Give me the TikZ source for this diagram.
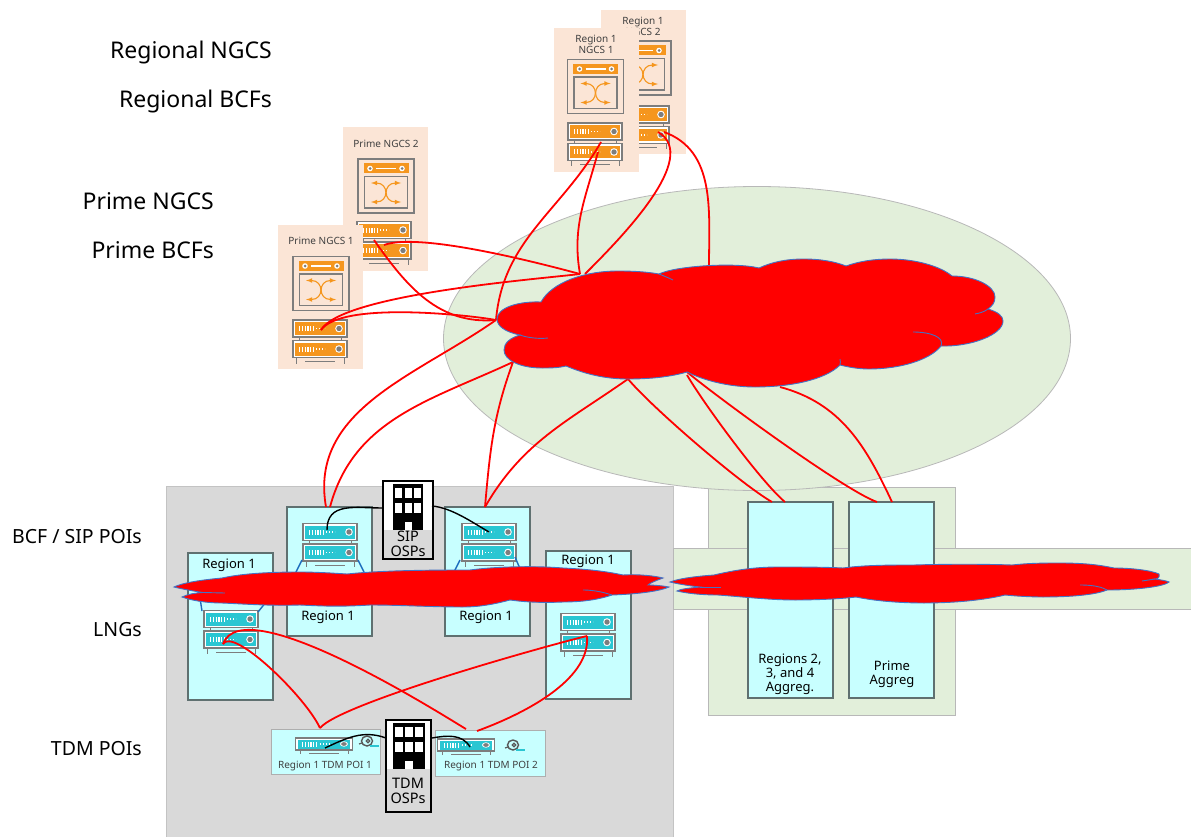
\documentclass[tikz,border=0pt]{standalone}
\usepackage{fontspec}
\usepackage{tikz}
\usetikzlibrary{shapes.geometric}
\setmainfont{Noto Sans}
\definecolor{peach}{RGB}{251, 229, 214}
\definecolor{palegreen}{RGB}{226, 239, 218}
\definecolor{palegray}{RGB}{217, 217, 217}
\definecolor{palecyan}{RGB}{200, 255, 255}
\definecolor{srvorange}{RGB}{245, 150, 30}
\definecolor{srvcyan}{RGB}{42, 198, 210}
\definecolor{iconedge}{RGB}{125, 125, 125}
\definecolor{boxedge}{RGB}{95, 112, 112}
\definecolor{cloudedge}{RGB}{68, 114, 196}
\definecolor{lanblue}{RGB}{30, 110, 190}

\tikzset{
	pics/srvunit/.style={code={
		\draw[iconedge,line width=1.2pt,fill=white] (-27,-8.5) rectangle (27,8.5);
		\fill[#1] (-25,-6.3) rectangle (25,6.5);
		\draw[white,line width=5pt,dash pattern=on 1.2pt off 1.6pt] (-21,0) -- (-6,0);
		\draw[white,line width=1.3pt,dash pattern=on 1.3pt off 1.7pt] (-4,0) -- (5,0);
		\fill[white] (19,0) circle (3.8pt);
		\fill[iconedge] (19,0) circle (2.7pt);
	}},
	pics/rack/.style={code={
		\draw[iconedge,line width=1pt] (-21,8) -- (-21,12) (21,8) -- (21,12);
		\draw[iconedge,line width=1pt] (-24,29) -- (-24,35) (24,29) -- (24,35);
		\draw[iconedge,line width=1pt] (-15,33) -- (15,33);
		\pic at (0,0) {srvunit=#1};
		\pic at (0,20.5) {srvunit=#1};
	}},
	pics/poiunit/.style={code={
		\draw[iconedge,line width=1pt] (-24,5) -- (-24,10) (24,5) -- (24,10);
		\draw[iconedge,line width=1pt] (-15,9) -- (15,9);
		\pic[xscale=1.05,yscale=.7] at (0,0) {srvunit=srvcyan};
	}},
	pics/coil/.style={code={
		\draw[iconedge!70!black,line width=1.4pt] (0,0) ellipse (5.5pt and 5pt);
		\draw[iconedge!70!black,line width=1.3pt] (1,0) circle (1.8pt);
		\draw[iconedge!70!black,line width=1.2pt] (-5,2) -- (-8,3);
		\draw[srvcyan,line width=1.1pt] (3,5) -- (12,5);
	}},
	pics/switchicon/.style={code={
		\draw[iconedge,line width=1.8pt] (-28,-27) rectangle (28,27);
		\fill[srvorange] (-22.5,-22.5) rectangle (22.5,-12.5);
		\fill[white] (-16,-17.5) circle (2.8pt);
		\fill[white] (16,-17.5) circle (2.8pt);
		\fill[iconedge] (-16,-17.5) circle (1.5pt);
		\fill[iconedge] (16,-17.5) circle (1.5pt);
		\draw[white,line width=1.1pt] (-10,-17.5) -- (10,-17.5);
		\draw[iconedge,line width=1.2pt] (-21.5,-9.5) rectangle (21.5,22);
		\draw[srvorange,line width=1.1pt,<->,>=latex] (-15,-3) .. controls (3,-3) and (3,16) .. (-15,16);
		\draw[srvorange,line width=1.1pt,<->,>=latex] (15,-3) .. controls (-3,-3) and (-3,16) .. (15,16);
	}},
	pics/tower/.style={code={
		\fill[black] (-15,0) rectangle (15,46);
		\fill[white] (-13,4) rectangle (-6,14);
		\fill[white] (-3.5,4) rectangle (3.5,14);
		\fill[white] (6,4) rectangle (13,14);
		\fill[white] (-13,19) rectangle (-6,29);
		\fill[white] (-3.5,19) rectangle (3.5,29);
		\fill[white] (6,19) rectangle (13,29);
		\fill[white] (-3.5,38) rectangle (3.5,46);
	}},
	peachbox/.style={fill=peach,minimum width=85pt,minimum height=144pt,inner sep=0pt},
	cyanbox/.style={fill=palecyan,draw=boxedge,line width=1.2pt,minimum width=85pt,inner sep=0pt},
	poibox/.style={fill=palecyan,draw=palegray!80!black,line width=.5pt,inner sep=0pt},
	greenbox/.style={fill=palegreen,draw=palegray!85!black,line width=.8pt,inner sep=0pt},
	ospbox/.style={fill=palegray,draw=black,line width=2.4pt,inner sep=0pt},
	rowlabel/.style={anchor=east,inner sep=0pt,font=\fontsize{19.5}{21}\selectfont},
	tierlabel/.style={anchor=east,inner sep=0pt,font=\fontsize{23}{26}\selectfont},
	peachlabel/.style={align=center,inner sep=0pt,text=black!75,font=\fontsize{10}{11}\selectfont},
	boxlabel/.style={align=center,inner sep=0pt,font=\fontsize{13}{14}\selectfont},
	osplabel/.style={align=center,inner sep=0pt,font=\fontsize{14.5}{15}\selectfont},
	poilabel/.style={inner sep=0pt,text=black!75,font=\fontsize{10}{12}\selectfont},
	redlink/.style={red,line width=1.8pt},
	blacklink/.style={black,line width=1.4pt},
	lanlink/.style={lanblue,line width=1.4pt},
	cloudpath/.style={fill=red,draw=cloudedge,line width=.9pt},
	cloudseam/.style={cloudedge,line width=.9pt}
}

\begin{document}
\begin{tikzpicture}[x=1pt,y=-1pt]
	\useasboundingbox (0,0) rectangle (1191,837);

	% backgrounds
	\node[fill=palegray,draw=palegray!90!black,line width=.6pt,minimum width=507pt,minimum height=351pt,inner sep=0pt] (tray) at (419.5,661.5) {};
	\node[greenbox,minimum width=247pt,minimum height=228pt] (aggtray) at (831.5,601) {};
	\node[greenbox,minimum width=520pt,minimum height=61pt] (band) at (933,578.5) {};
	\node[ellipse,fill=palegreen,draw=palegray!85!black,line width=.8pt,minimum width=627pt,minimum height=304pt,inner sep=0pt] (core) at (757,338.5) {};

	% row labels
	\node[tierlabel] (lrn) at (272,53) {Regional NGCS};
	\node[tierlabel] (lrb) at (272,102) {Regional BCFs};
	\node[tierlabel] (lpn) at (214,201) {Prime NGCS};
	\node[tierlabel] (lpb) at (214,250) {Prime BCFs};
	\node[rowlabel] (lsip) at (142,537) {BCF / SIP POIs};
	\node[rowlabel] (llng) at (142,630) {LNGs};
	\node[rowlabel] (ltdm) at (142,749) {TDM POIs};

	% Region 1 NGCS
	\node[peachbox] (rn2) at (643.5,82.5) {};
	\node[peachlabel] (rn2l) at (643,26) {Region 1\\NGCS 2};
	\pic at (643,68) {switchicon};
	\pic at (642,114.5) {rack=srvorange};
	\node[peachbox] (rn1) at (596.5,100) {};
	\node[peachlabel] (rn1l) at (596,44.5) {Region 1\\NGCS 1};
	\pic at (595.5,86.5) {switchicon};
	\pic at (595,131.5) {rack=srvorange};

	% Prime NGCS
	\node[peachbox] (pn2) at (385.5,199) {};
	\node[peachlabel] (pn2l) at (386,144) {Prime NGCS 2};
	\pic at (386,186) {switchicon};
	\pic at (384,230) {rack=srvorange};
	\node[peachbox] (pn1) at (320.5,297) {};
	\node[peachlabel] (pn1l) at (321,241) {Prime NGCS 1};
	\pic at (321,283.5) {switchicon};
	\pic at (320,328.5) {rack=srvorange};

	% Region 1 boxes
	\node[cyanbox,minimum height=147pt] (rba) at (230.5,626.5) {};
	\node[boxlabel] (rbal) at (229,565) {Region 1};
	\pic at (231,619) {rack=srvcyan};
	\node[cyanbox,minimum height=129pt] (rbb) at (329.5,571.5) {};
	\node[boxlabel] (rbbl) at (328,617) {Region 1};
	\pic at (330,532) {rack=srvcyan};
	\node[cyanbox,minimum height=129pt] (rbc) at (487.5,571.5) {};
	\node[boxlabel] (rbcl) at (486,617) {Region 1};
	\pic at (489,532) {rack=srvcyan};
	\node[cyanbox,minimum height=148pt] (rbd) at (588.5,625) {};
	\node[boxlabel] (rbdl) at (588,561) {Region 1};
	\pic at (588,622) {rack=srvcyan};

	% Aggregation boxes
	\node[cyanbox,minimum height=196pt] (agg) at (790.5,600) {};
	\node[boxlabel] (aggl) at (790,674) {Regions 2,\\3, and 4\\Aggreg.};
	\node[cyanbox,minimum height=196pt] (pag) at (891.5,600) {};
	\node[boxlabel] (pagl) at (892,674) {Prime\\Aggreg};

	% TDM POIs
	\node[poibox,minimum width=109pt,minimum height=45pt] (poa) at (325.5,751.5) {};
	\node[poilabel] (poal) at (325,766) {Region 1 TDM POI 1};
	\pic at (324,744) {poiunit};
	\pic at (367,741) {coil};
	\node[poibox,minimum width=110pt,minimum height=46pt] (pob) at (490,753) {};
	\node[poilabel] (pobl) at (491,766) {Region 1 TDM POI 2};
	\pic at (466,745) {poiunit};
	\pic at (513,745) {coil};

	% OSP buildings
	\node[ospbox,minimum width=50pt,minimum height=78pt] (sosp) at (408,520) {};
	\fill[white] (384.2,482.2) rectangle (431.8,530);
	\pic at (408,484) {tower};
	\node[osplabel] (sospl) at (408,544) {SIP\\OSPs};
	\node[ospbox,minimum width=45pt,minimum height=92pt] (tosp) at (408.5,766) {};
	\fill[white] (387.2,721.2) rectangle (429.8,769);
	\pic[xscale=1.08] at (409,723) {tower};
	\node[osplabel] (tospl) at (408,790.5) {TDM\\OSPs};

	% link ends
	\coordinate (rn1a) at (601,142);
	\coordinate (rn1b) at (598,152);
	\coordinate (rn2a) at (658,132);
	\coordinate (rn2b) at (664,132);
	\coordinate (pn2a) at (384,245);
	\coordinate (pn2b) at (374,240);
	\coordinate (pn1a) at (321,330);
	\coordinate (cwest) at (496,320);
	\coordinate (cnwa) at (580,274);
	\coordinate (cnwb) at (585,274);
	\coordinate (cnorth) at (709,266);
	\coordinate (csw) at (513,362);
	\coordinate (csa) at (628,379);
	\coordinate (csb) at (687,375);
	\coordinate (csc) at (687,372);
	\coordinate (csd) at (780,387);
	\coordinate (rbba) at (326,507);
	\coordinate (rbbb) at (330,507);
	\coordinate (rbca) at (485,507);
	\coordinate (agga) at (772,502);
	\coordinate (aggb) at (785,502);
	\coordinate (paga) at (877,502);
	\coordinate (pagb) at (892,502);
	\coordinate (rbar) at (223,644);
	\coordinate (rbdr) at (587,636);
	\coordinate (poat) at (320,728);
	\coordinate (pobt) at (466,729);
	\coordinate (pobu) at (477,731);
	\coordinate (sospw) at (383,508);
	\coordinate (sospe) at (432,506);
	\coordinate (rbbs) at (327,530);
	\coordinate (rbcs) at (489,532);
	\coordinate (tospw) at (386,738);
	\coordinate (tospe) at (432,738);
	\coordinate (poas) at (325,748);
	\coordinate (pobs) at (470,747);

	% Regional links
	\draw[redlink](cwest) to [out=85,in=240,looseness=1](rn1a);
	\draw[redlink](cnwa) to [out=100,in=255,looseness=1](rn1b);
	\draw[redlink](cnwb) to [out=45,in=330,looseness=0.8](rn2a);
	\draw[redlink](cnorth) to [out=90,in=340,looseness=1](rn2b);
	% Prime links
	\draw[redlink](pn2a) to [out=20,in=165,looseness=0.5](cnwa);
	\draw[redlink](pn2b) to [out=305,in=185,looseness=1](cwest);
	\draw[redlink](pn1a) to [out=60,in=187,looseness=0.4](cnwa);
	\draw[redlink](pn1a) to [out=55,in=170,looseness=0.5](cwest);
	% BCF links
	\draw[redlink](cwest) to [out=215,in=100,looseness=1](rbba);
	\draw[redlink](csw) to [out=205,in=75,looseness=1](rbbb);
	\draw[redlink](csw) to [out=250,in=85,looseness=1](rbca);
	\draw[redlink](csa) to [out=215,in=60,looseness=1](rbca);
	% Aggregation links
	\draw[redlink](csa) to [out=310,in=150,looseness=0.5](agga);
	\draw[redlink](csb) to [out=300,in=140,looseness=0.5](aggb);
	\draw[redlink](csc) to [out=320,in=160,looseness=0.4](paga);
	\draw[redlink](csd) to [out=345,in=115,looseness=1](pagb);
	% TDM links
	\draw[redlink](rbar) to [out=70,in=150,out looseness=0.6,in looseness=0.2](pobt);
	\draw[redlink](rbar) to [out=60,in=115,out looseness=0.4,in looseness=0.7](poat);
	\draw[redlink](rbdr) to [out=193,in=50,looseness=0.3](poat);
	\draw[redlink](rbdr) to [out=275,in=20,looseness=0.8](pobu);
	% OSP links
	\draw[blacklink](sospw) to [out=180,in=90,looseness=1.2](rbbs);
	\draw[blacklink](sospe) to [out=355,in=150,looseness=0.8](rbcs);
	\draw[blacklink](tospw) to [out=160,in=25,looseness=1](poas);
	\draw[blacklink](tospe) to [out=10,in=120,looseness=1](pobs);

	% LAN stubs
	\coordinate (lana) at (200,598);
	\coordinate (lanb) at (202,611);
	\coordinate (lanc) at (266,602);
	\coordinate (land) at (258,612);
	\coordinate (lane) at (296,572);
	\coordinate (lanf) at (302,560);
	\coordinate (lang) at (364,572);
	\coordinate (lanh) at (358,560);
	\coordinate (lani) at (454,572);
	\coordinate (lanj) at (460,560);
	\coordinate (lank) at (524,578);
	\coordinate (lanl) at (515,557);
	\draw[lanlink](lana) -- (lanb);
	\draw[lanlink](lanc) -- (land);
	\draw[lanlink](lane) -- (lanf);
	\draw[lanlink](lang) -- (lanh);
	\draw[lanlink](lani) -- (lanj);
	\draw[lanlink](lank) -- (lanl);

	% core cloud
	\draw[cloudpath] (541,302) .. controls (552,282) and (585,271) .. (618,271)
		.. controls (635,271) and (648,272) .. (659,274)
		.. controls (675,266) and (735,262) .. (759,268)
		.. controls (772,262) and (786,259) .. (804,259)
		.. controls (822,259) and (836,262) .. (846,266)
		.. controls (860,261) and (875,259) .. (890,259)
		.. controls (915,259) and (940,266) .. (952,276)
		.. controls (975,276) and (995,286) .. (995,297)
		.. controls (995,303) and (992,306) .. (988,309)
		.. controls (998,312) and (1003,316) .. (1003,321)
		.. controls (1003,335) and (970,347) .. (941,346)
		.. controls (930,360) and (900,369) .. (869,369)
		.. controls (858,369) and (848,367) .. (840,365)
		.. controls (825,380) and (790,387) .. (755,387)
		.. controls (730,387) and (705,381) .. (687,372)
		.. controls (670,377) and (650,379) .. (628,379)
		.. controls (605,379) and (585,374) .. (566,366)
		.. controls (558,368) and (550,368) .. (542,368)
		.. controls (520,368) and (504,360) .. (504,350)
		.. controls (504,343) and (510,338) .. (520,335)
		.. controls (505,332) and (497,326) .. (497,319)
		.. controls (497,308) and (518,301) .. (541,302) -- cycle;
	\draw[cloudseam] (659,274) .. controls (664,276) and (669,278) .. (673,280);
	\draw[cloudseam] (520,335) .. controls (528,338) and (540,339) .. (548,338);
	\draw[cloudseam] (988,309) .. controls (984,312) and (980,313) .. (975,314);
	\draw[cloudseam] (941,346) .. controls (945,337) and (930,332) .. (913,332);
	\draw[cloudseam] (840,365) .. controls (840,363) and (841,361) .. (840,359);

	% Region 1 cloud
	\draw[cloudpath] (222,578) .. controls (240,574) and (265,572) .. (300,572)
		.. controls (315,572) and (332,573) .. (347,574)
		.. controls (385,570) and (440,570) .. (470,570)
		.. controls (500,566) and (540,566) .. (563,568)
		.. controls (585,569) and (605,571) .. (623,575)
		.. controls (640,574) and (655,576) .. (663,578)
		.. controls (655,581) and (650,583) .. (648,585)
		.. controls (655,585) and (664,586) .. (669,587)
		.. controls (660,591) and (640,594) .. (612,595)
		.. controls (600,599) and (585,602) .. (563,602)
		.. controls (540,603) and (525,602) .. (510,600)
		.. controls (495,604) and (480,607) .. (463,607)
		.. controls (430,607) and (400,605) .. (370,605)
		.. controls (340,607) and (320,606) .. (300,605)
		.. controls (270,606) and (245,604) .. (222,603)
		.. controls (205,603) and (190,600) .. (182,597)
		.. controls (188,594) and (195,593) .. (203,592.5)
		.. controls (193,591) and (182,589) .. (174,587)
		.. controls (182,583) and (200,580) .. (222,578) -- cycle;
	\draw[cloudseam] (203,592.5) -- (225,593);
	\draw[cloudseam] (612,595) .. controls (600,591) and (590,590) .. (583,590);

	% Aggregation cloud
	\draw[cloudpath] (714,575) .. controls (735,570) and (755,567) .. (778,567)
		.. controls (800,567) and (825,567) .. (843,568)
		.. controls (865,565) and (890,565) .. (914,565)
		.. controls (945,564) and (985,564) .. (1012,565)
		.. controls (1030,563) and (1045,563) .. (1060,563)
		.. controls (1085,563) and (1100,565) .. (1114,568)
		.. controls (1130,568) and (1150,570) .. (1159,574)
		.. controls (1160,577) and (1158,579) .. (1155,579)
		.. controls (1162,580) and (1167,581) .. (1169,582)
		.. controls (1165,586) and (1140,590) .. (1107,590)
		.. controls (1095,595) and (1070,597) .. (1043,597)
		.. controls (1030,597) and (1015,596) .. (1005,595)
		.. controls (985,600) and (955,603) .. (924,603)
		.. controls (900,603) and (875,601) .. (856,597)
		.. controls (840,599) and (815,600) .. (795,600)
		.. controls (770,600) and (745,597) .. (718,595)
		.. controls (700,595) and (685,593) .. (677,591)
		.. controls (680,589) and (690,588) .. (700,587)
		.. controls (690,586) and (678,584) .. (670,582)
		.. controls (680,578) and (700,576) .. (714,575) -- cycle;
	\draw[cloudseam] (700,587) -- (721,587);
	\draw[cloudseam] (1155,579) -- (1142,581);
	\draw[cloudseam] (1107,590) .. controls (1100,586) and (1090,585) .. (1080,585);
\end{tikzpicture}
\end{document}
